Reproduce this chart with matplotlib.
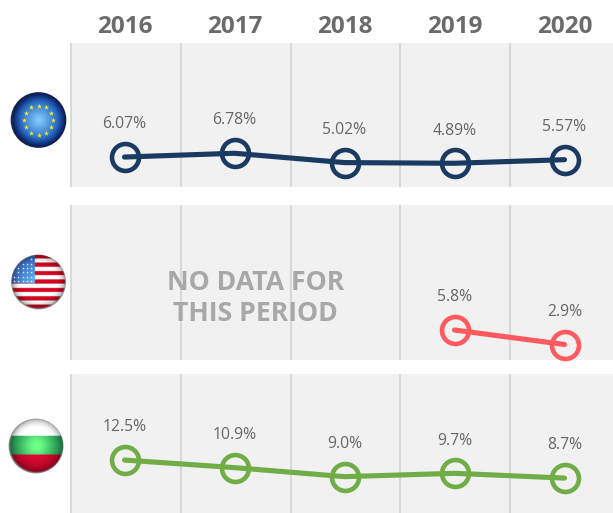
import numpy as np
import matplotlib
matplotlib.use("Agg")
import matplotlib.pyplot as plt
from matplotlib.patches import Circle
from matplotlib.ticker import FixedLocator

W, H = 613, 513
years = ["2016", "2017", "2018", "2019", "2020"]
eu_values = [6.07, 6.78, 5.02, 4.89, 5.57]
eu_labels = ["6.07%", "6.78%", "5.02%", "4.89%", "5.57%"]
us_values = [np.nan, np.nan, np.nan, 5.8, 2.9]
us_labels = ["", "", "", "5.8%", "2.9%"]
bg_values = [12.5, 10.9, 9.0, 9.7, 8.7]
bg_labels = ["12.5%", "10.9%", "9.0%", "9.7%", "8.7%"]
no_data_text = "NO DATA FOR\nTHIS PERIOD"

plt.rcParams["font.family"] = ["Open Sans", "DejaVu Sans"]
fig = plt.figure(figsize=(W / 100, H / 100), dpi=100, facecolor="white")


def px_axes(left, top, right, bottom):
    return fig.add_axes([left / W, 1 - bottom / H, (right - left) / W, (bottom - top) / H])


panels = [
    (43, 187, eu_values, eu_labels, "#1a3a62", (5.3, 189.2)),
    (205, 360, us_values, us_labels, "#ff5a5f", (5.0, 359.0)),
    (374, 513, bg_values, bg_labels, "#70ad47", (4.75, 519.4)),
]
grid_px = [71, 181, 291, 400, 510]

for i, (top, bottom, vals, labs, col, (scale, zero)) in enumerate(panels):
    ax = px_axes(70, top, 613, bottom)
    ax.set_facecolor("#f1f1f1")
    ax.set_xlim((70 - 124.5) / 110, (613 - 124.5) / 110)
    ax.set_ylim((zero - bottom) / scale, (zero - top) / scale)
    for s in ax.spines.values():
        s.set_visible(False)
    ax.set_yticks([])
    ax.set_xticks(range(len(years)))
    ax.xaxis.set_minor_locator(FixedLocator([(p + 0.5 - 125) / 110 for p in grid_px]))
    ax.tick_params(axis="x", which="minor", length=0)
    ax.grid(True, axis="x", which="minor", color="#d9d9d9", lw=1.5)
    ax.grid(False, axis="x", which="major")
    ax.set_axisbelow(True)
    if i == 0:
        ax.xaxis.tick_top()
        ax.set_xticklabels(years, fontsize=17.5, fontweight="bold", color="#6b6b6b")
        ax.tick_params(axis="x", which="major", length=0, pad=3)
    else:
        ax.set_xticklabels([])
        ax.tick_params(axis="x", which="major", length=0)
    ax.plot(range(len(years)), vals, color=col, lw=3.7, solid_capstyle="round",
            marker="o", ms=19.4, mfc="none", mew=3.3, mec=col, clip_on=False, zorder=3)
    for k, (v, lab) in enumerate(zip(vals, labs)):
        if lab:
            ax.annotate(lab, (k, v), xytext=(0, 23.6), textcoords="offset points",
                        ha="center", va="center", fontsize=11.3, color="#666666")
    if i == 1:
        ax.text(1.19, 12.05, no_data_text, ha="center", va="center", fontsize=19.2,
                fontweight="bold", color="#a8a8a8", linespacing=1.26, zorder=4)


def flag_axes(cx, cy, r):
    a = px_axes(cx - r - 1, cy - r - 1, cx + r + 1, cy + r + 1)
    a.set_xlim(-1.04, 1.04)
    a.set_ylim(-1.04, 1.04)
    a.axis("off")
    n = 240
    xs = np.linspace(-1.04, 1.04, n)
    X, Y = np.meshgrid(xs, xs)
    return a, X, Y


def finish(a, img, X, Y, rim_col=(0.55, 0.55, 0.57)):
    R = np.hypot(X, Y)
    shade = np.clip(1.04 - 0.45 * R ** 6, 0, 1.1)
    out = np.clip(img * shade[..., None], 0, 1)
    rim = np.clip((R - 0.95) / 0.05, 0, 1)[..., None]
    out = out * (1 - rim) + np.array(rim_col) * rim
    im = a.imshow(out, extent=(-1.04, 1.04, -1.04, 1.04), origin="lower", interpolation="bilinear", zorder=1)
    im.set_clip_path(Circle((0, 0), 1.0, transform=a.transData))


# EU flag
a, X, Y = flag_axes(38.5, 120, 28)
R = np.hypot(X, Y)[..., None]
inner = np.array([0.52, 0.78, 0.95])
mid = np.array([0.16, 0.42, 0.76])
outer = np.array([0.03, 0.12, 0.45])
t = np.clip(R / 0.66, 0, 1)
t2 = np.clip((R - 0.66) / 0.34, 0, 1)
img = (inner * (1 - t) + mid * t) * (1 - t2) + outer * t2
finish(a, img, X, Y, (0.15, 0.18, 0.3))
star_angles = np.arange(12) * 30.0
a.scatter(0.52 * np.sin(np.radians(star_angles)), 0.52 * np.cos(np.radians(star_angles)),
          marker="*", s=15, color="#f4e81e", lw=0, zorder=2)

# US flag
a, X, Y = flag_axes(38.5, 282, 27.5)
img = np.ones(X.shape + (3,))
red = np.array([0.80, 0.02, 0.13])
white = np.array([1.0, 1.0, 1.0])
band = np.floor((Y + 1.0) / (2 / 13)).astype(int) % 2 == 0
img[band] = red
img[~band] = white
canton = (X < -0.13) & (Y > -0.06)
cblue = np.array([0.22, 0.42, 0.76]) + (np.clip((X + 1) / 1.0, 0, 1) * np.clip((0.9 - Y) / 1.0, 0, 1))[..., None] * np.array([0.2, 0.35, 0.2])
img[canton] = cblue[canton]
finish(a, img, X, Y)
gx, gy = np.meshgrid(np.arange(-0.88, -0.15, 0.15), np.arange(0.03, 0.95, 0.16))
keep = np.hypot(gx, gy) < 0.93
a.scatter(gx[keep], gy[keep], s=3.5, marker="*", color="white", lw=0, alpha=0.9, zorder=2)

# Bulgarian flag
a, X, Y = flag_axes(36, 446, 27.5)
img = np.ones(X.shape + (3,))
lum = np.exp(-(X ** 2 + (Y) ** 2) / 0.35)[..., None]
green = np.array([0.13, 0.55, 0.30]) * (1 - lum) + np.array([0.42, 0.97, 0.52]) * lum
redc = np.array([0.72, 0.02, 0.15]) * (1 - lum) + np.array([0.90, 0.05, 0.22]) * lum
mid_band = (Y < 0.36) & (Y > -0.33)
img[mid_band] = green[mid_band]
low = Y <= -0.33
img[low] = redc[low]
finish(a, img, X, Y)

fig.savefig("out.png", dpi=100, facecolor="white")
